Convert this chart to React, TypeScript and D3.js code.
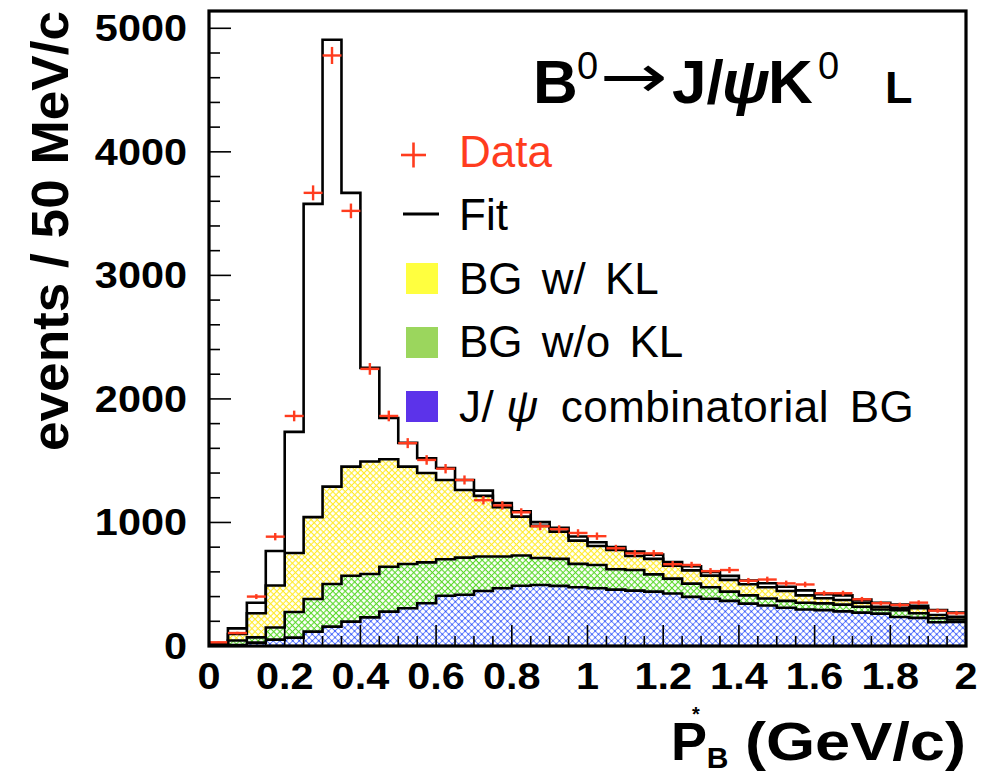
import React from "react";
import * as d3 from "d3";

// Histogram binning: 40 bins of 50 MeV/c between 0 and 2 GeV/c
const BIN_WIDTH = 0.05;
const binLowEdges = d3.range(40).map((i) => +(i * BIN_WIDTH).toFixed(2));

// Observed events per bin
const dataCounts = [
  30, 105, 400, 885, 1862, 3668, 4780, 3522, 2243, 1862,
  1642, 1506, 1435, 1344, 1180, 1138, 1082, 969, 946, 915,
  889, 791, 750, 750, 662, 656, 606, 615, 528, 538,
  507, 498, 427, 427, 378, 346, 332, 351, 286, 265,
];

// Total fit (signal + all backgrounds)
const fitTotal = [
  15, 143, 350, 769, 1733, 3579, 4907, 3668, 2251, 1846,
  1644, 1520, 1441, 1344, 1258, 1158, 1090, 1003, 957, 886,
  840, 800, 764, 740, 680, 645, 600, 568, 530, 508,
  480, 450, 420, 410, 375, 350, 335, 325, 290, 270,
];

// Background components (stacked bottom to top: combinatorial, w/o KL, w/ KL)
const jpsiCombBG = [
  2, 8, 27, 52, 68, 116, 157, 197, 232, 278,
  305, 346, 407, 415, 445, 467, 488, 494, 487, 475,
  467, 456, 448, 440, 425, 398, 382, 365, 343, 328,
  310, 295, 290, 280, 270, 262, 235, 228, 192, 195,
];
const bgWithoutKL = [
  3, 37, 43, 98, 207, 264, 345, 372, 351, 364,
  359, 331, 295, 300, 280, 258, 245, 218, 218, 190,
  189, 165, 167, 140, 120, 107, 93, 75, 67, 57,
  55, 55, 55, 55, 48, 33, 55, 37, 33, 20,
];
const bgWithKL = [
  3, 52, 195, 340, 478, 663, 788, 883, 910, 870,
  788, 723, 642, 548, 490, 398, 314, 260, 221, 188,
  154, 156, 114, 125, 105, 107, 95, 95, 90, 90,
  80, 60, 41, 37, 33, 23, 20, 40, 26, 22,
];

const xTickLabels = ["0", "0.2", "0.4", "0.6", "0.8", "1", "1.2", "1.4", "1.6", "1.8", "2"];
const yTickLabels = ["0", "1000", "2000", "3000", "4000", "5000"];

const W = 984;
const H = 775;
const FRAME = { left: 209, right: 966, top: 11, bottom: 646 };
const RED = "#ff3c1e";
const SANS = "'Liberation Sans', Arial, Helvetica, sans-serif";

const x = d3.scaleLinear().domain([0, 2]).range([FRAME.left, FRAME.right]);
const y = d3.scaleLinear().domain([0, 5140]).range([FRAME.bottom, FRAME.top]);

type Row = { lo: number; comb: number; woKL: number; wKL: number };
const rows: Row[] = binLowEdges.map((lo, i) => ({
  lo,
  comb: jpsiCombBG[i],
  woKL: bgWithoutKL[i],
  wKL: bgWithKL[i],
}));
const stacked = d3.stack<Row>().keys(["comb", "woKL", "wKL"])(rows);

// Duplicate each bin at both edges so straight segments give a step shape
type StepPt = { xv: number; lo: number; hi: number };
function stepPoints(lowVals: number[], highVals: number[]): StepPt[] {
  return binLowEdges.flatMap((lo, i) => [
    { xv: lo, lo: lowVals[i], hi: highVals[i] },
    { xv: lo + BIN_WIDTH, lo: lowVals[i], hi: highVals[i] },
  ]);
}

const bandArea = d3
  .area<StepPt>()
  .x((d) => x(d.xv))
  .y0((d) => y(d.lo))
  .y1((d) => y(d.hi));
const stepLine = d3
  .line<StepPt>()
  .x((d) => x(d.xv))
  .y((d) => y(d.hi));

const bandFills = ["url(#hatch-blue)", "url(#hatch-green)", "url(#hatch-yellow)"];

const legendRows = [
  { label: "BG w/ KL", color: "#ffff3f", top: 263, base: 294 },
  { label: "BG w/o KL", color: "#9bd65d", top: 327, base: 357 },
];

export default function App() {
  const fitPts = stepPoints(fitTotal.map(() => 0), fitTotal);
  const yTicks = y.ticks(25).filter((v) => v <= 5000);
  const xTicks = x.ticks(40);

  return (
    <svg
      width={W}
      height={H}
      viewBox={`0 0 ${W} ${H}`}
      style={{ position: "absolute", left: 0, top: 0, background: "#fff" }}
    >
      <defs>
        <pattern id="hatch-yellow" width="4.4" height="4.4" patternUnits="userSpaceOnUse" patternTransform="rotate(45)">
          <path d="M0,2.2 H4.4 M2.2,0 V4.4" stroke="#ffea2a" strokeWidth="1.1" />
        </pattern>
        <pattern id="hatch-green" width="4.4" height="4.4" patternUnits="userSpaceOnUse" patternTransform="rotate(45)">
          <path d="M0,2.2 H4.4 M2.2,0 V4.4" stroke="#5ad82a" strokeWidth="1.1" />
        </pattern>
        <pattern id="hatch-blue" width="4.6" height="4.6" patternUnits="userSpaceOnUse" patternTransform="rotate(45)">
          <path d="M0,2.3 H4.6 M2.3,0 V4.6" stroke="#5a78ff" strokeWidth="0.8" />
          <circle cx="2.3" cy="2.3" r="1.0" fill="#2a4cf5" />
        </pattern>
      </defs>

      {/* stacked background bands */}
      {stacked.map((s, si) => {
        const pts = stepPoints(
          s.map((d) => d[0]),
          s.map((d) => d[1])
        );
        return <path key={s.key} d={bandArea(pts) || ""} fill={bandFills[si]} />;
      })}

      {/* band outlines */}
      {stacked.map((s) => {
        const pts = stepPoints(
          s.map((d) => d[0]),
          s.map((d) => d[1])
        );
        return (
          <path
            key={`o-${s.key}`}
            d={stepLine(pts) || ""}
            fill="none"
            stroke="#000"
            strokeWidth={2.6}
          />
        );
      })}

      {/* fit */}
      <path d={stepLine(fitPts) || ""} fill="none" stroke="#000" strokeWidth={2.6} />

      {/* data with Poisson errors */}
      <g stroke={RED} strokeWidth={2.4}>
        {dataCounts.map((n, i) => {
          const lo = binLowEdges[i];
          const cx = x(lo + BIN_WIDTH / 2);
          const err = Math.sqrt(n);
          return (
            <g key={i}>
              <line x1={x(lo)} x2={x(lo + BIN_WIDTH)} y1={y(n)} y2={y(n)} />
              <line x1={cx} x2={cx} y1={y(n - err)} y2={y(n + err)} />
            </g>
          );
        })}
      </g>

      {/* ticks */}
      <g stroke="#000" strokeWidth={1.6}>
        {yTicks.map((v) => {
          const major = v % 1000 === 0;
          return (
            <line key={`yt${v}`} x1={FRAME.left} x2={FRAME.left + (major ? 22 : 11)} y1={y(v)} y2={y(v)} />
          );
        })}
        {xTicks.map((v) => {
          const major = Math.abs(v / 0.2 - Math.round(v / 0.2)) < 1e-6;
          return (
            <line key={`xt${v}`} x1={x(v)} x2={x(v)} y1={FRAME.bottom} y2={FRAME.bottom - (major ? 21 : 10)} />
          );
        })}
      </g>

      {/* frame */}
      <rect
        x={FRAME.left}
        y={FRAME.top}
        width={FRAME.right - FRAME.left}
        height={FRAME.bottom - FRAME.top}
        fill="none"
        stroke="#000"
        strokeWidth={3.2}
      />

      {/* tick labels */}
      <g fontFamily={SANS} fontWeight="bold" fontSize={37} fill="#000">
        {yTickLabels.map((t) => (
          <text key={`yl${t}`} transform={`translate(187,${y(+t) + 13}) scale(1.12,1)`} textAnchor="end">
            {t}
          </text>
        ))}
        {xTickLabels.map((t) => (
          <text key={`xl${t}`} transform={`translate(${x(+t)},689) scale(1.12,1)`} textAnchor="middle">
            {t}
          </text>
        ))}
      </g>

      {/* axis titles */}
      <text
        transform="translate(68,231) rotate(-90)"
        fontFamily={SANS}
        fontWeight="bold"
        fontSize={52}
        textAnchor="middle"
        textLength={440}
        lengthAdjust="spacingAndGlyphs"
      >
        events / 50 MeV/c
      </text>
      <g fontFamily={SANS} fontWeight="bold" fill="#000">
        <text x={671} y={760} fontSize={54}>
          P
          <tspan dx={-15} dy={-39} fontSize={20}>*</tspan>
          <tspan dx={7} dy={47} fontSize={30}>B</tspan>
        </text>
        <text transform="translate(966,760) scale(1.17,1)" fontSize={54} textAnchor="end">(GeV/c)</text>
      </g>

      {/* decay label */}
      <g fill="#000" fontFamily={SANS}>
        <text x={533} y={103} fontSize={62} fontWeight="bold">B</text>
        <text x={577} y={79} fontSize={38}>0</text>
        <text x={600} y={97} fontSize={60} fontFamily="'DejaVu Sans', sans-serif" textLength={68} lengthAdjust="spacingAndGlyphs">→</text>
        <text x={672} y={103} fontSize={62} fontWeight="bold">J/</text>
        <text x={722} y={103} fontSize={62} fontWeight="bold" fontStyle="italic">ψ</text>
        <text x={768} y={103} fontSize={62} fontWeight="bold">K</text>
        <text x={818} y={79} fontSize={38}>0</text>
        <text x={885} y={103} fontSize={45} fontWeight="bold">L</text>
      </g>

      {/* legend */}
      <g fontFamily={SANS} fontSize={44}>
        <g stroke={RED} strokeWidth={2.6}>
          <line x1={401} x2={426} y1={155} y2={155} />
          <line x1={413.5} x2={413.5} y1={142.5} y2={167.5} />
        </g>
        <text x={459} y={167} fill={RED}>Data</text>

        <line x1={403} x2={439} y1={214} y2={214} stroke="#000" strokeWidth={3} />
        <text x={459} y={230} fill="#000">Fit</text>

        {legendRows.map((r) => (
          <g key={r.label}>
            <rect x={406} y={r.top} width={32} height={31} fill={r.color} />
            <text x={459} y={r.base} fill="#000" wordSpacing={7}>{r.label}</text>
          </g>
        ))}
        <rect x={406} y={391} width={32} height={31} fill="#5c33ea" />
        <text x={459} y={422} fill="#000" wordSpacing={8} letterSpacing={0.5}>
          J/
          <tspan fontStyle="italic" dx={12}>ψ</tspan>
          <tspan dx={22}>combinatorial BG</tspan>
        </text>
      </g>
    </svg>
  );
}
